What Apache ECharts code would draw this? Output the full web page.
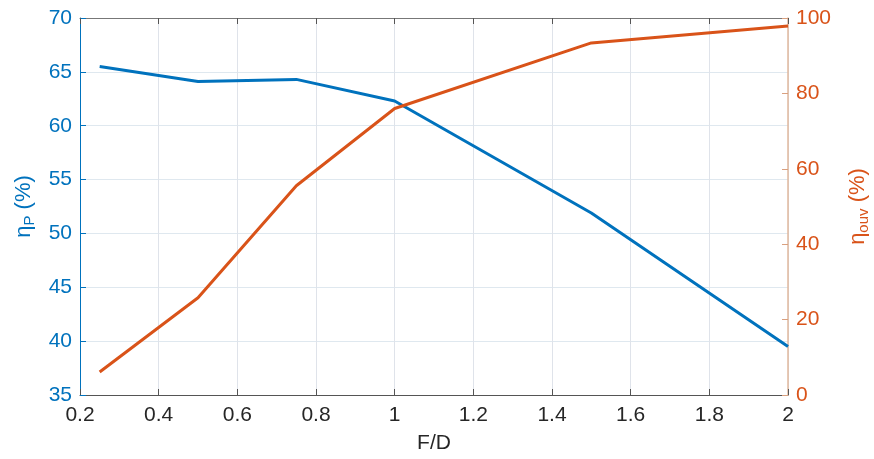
<!DOCTYPE html>
<html>
<head>
<meta charset="utf-8">
<script src="https://cdn.jsdelivr.net/npm/echarts@6/dist/echarts.min.js"></script>
<style>html,body{margin:0;padding:0;background:#fff}#c{width:874px;height:459px}</style>
</head>
<body>
<div id="c"></div>
<script>
const fd = [0.25, 0.5, 0.75, 1.0, 1.5, 2.0];
const etaP = [65.5, 64.1, 64.3, 62.3, 51.9, 39.5];
const etaOuv = [6.1, 25.8, 55.5, 76.0, 93.4, 97.9];
const xTicks = [0.2, 0.4, 0.6, 0.8, 1, 1.2, 1.4, 1.6, 1.8, 2];

const BLUE = '#0072BD', ORANGE = '#D95319';
const FONT = 'Liberation Sans, Arial, sans-serif';
const chart = echarts.init(document.getElementById('c'));
const fmtX = v => String(Math.round(v * 10) / 10);
chart.setOption({
  animation: false,
  grid: { left: 80, right: 86, top: 18, bottom: 64, containLabel: false, outerBoundsMode: 'none' },
  xAxis: [{
    type: 'value', min: xTicks[0], max: xTicks[xTicks.length - 1], interval: 0.2,
    name: 'F/D', nameLocation: 'middle', nameGap: 38,
    nameTextStyle: { color: '#262626', fontSize: 21, fontFamily: FONT },
    axisLine: { lineStyle: { color: '#555', width: 1 } },
    axisTick: { inside: true, length: 6, lineStyle: { color: '#555' } },
    axisLabel: { color: '#262626', fontSize: 21, fontFamily: FONT, margin: 10, formatter: fmtX },
    splitLine: { show: true, lineStyle: { color: '#dfe3ea', width: 1 } }
  }, {
    type: 'value', position: 'top', min: xTicks[0], max: xTicks[xTicks.length - 1], interval: 0.2,
    axisLine: { show: true, lineStyle: { color: '#777', width: 1 } },
    axisTick: { show: true, inside: true, length: 6, lineStyle: { color: '#555' } },
    axisLabel: { show: false }, splitLine: { show: false }
  }],
  yAxis: [{
    type: 'value', min: 35, max: 70, interval: 5, position: 'left',
    name: '{a|η}{s|P}{a| (%)}', nameLocation: 'middle', nameGap: 38, nameRotate: 90,
    nameTextStyle: { color: BLUE, rich: {
      a: { fontSize: 22, fontFamily: FONT, color: BLUE },
      s: { fontSize: 15, fontFamily: FONT, color: BLUE, verticalAlign: 'bottom', padding: [12, 0, 0, 0] } } },
    axisLine: { show: true, lineStyle: { color: BLUE, width: 1 } },
    axisTick: { show: true, inside: true, length: 6, lineStyle: { color: BLUE } },
    axisLabel: { color: BLUE, fontSize: 21, fontFamily: FONT, margin: 8 },
    splitLine: { show: true, lineStyle: { color: '#dfe8ef', width: 1 } }
  }, {
    type: 'value', min: 0, max: 100, interval: 20, position: 'right',
    name: '{a|η}{s|ouv}{a| (%)}', nameLocation: 'middle', nameGap: 56, nameRotate: 90,
    nameTextStyle: { color: ORANGE, rich: {
      a: { fontSize: 22, fontFamily: FONT, color: ORANGE },
      s: { fontSize: 15, fontFamily: FONT, color: ORANGE, verticalAlign: 'bottom', padding: [12, 0, 0, 0] } } },
    axisLine: { show: true, lineStyle: { color: '#e0b89e', width: 1.5 } },
    axisTick: { show: true, inside: true, length: 6, lineStyle: { color: '#d9a07f' } },
    axisLabel: { color: ORANGE, fontSize: 21, fontFamily: FONT, margin: 8 },
    splitLine: { show: false }
  }],
  series: [{
    type: 'line', xAxisIndex: 0, yAxisIndex: 0, data: fd.map((x, i) => [x, etaP[i]]),
    showSymbol: false, lineStyle: { color: BLUE, width: 3 }, itemStyle: { color: BLUE }
  }, {
    type: 'line', xAxisIndex: 0, yAxisIndex: 1, data: fd.map((x, i) => [x, etaOuv[i]]),
    showSymbol: false, lineStyle: { color: ORANGE, width: 3 }, itemStyle: { color: ORANGE }
  }]
});
</script>
</body>
</html>
